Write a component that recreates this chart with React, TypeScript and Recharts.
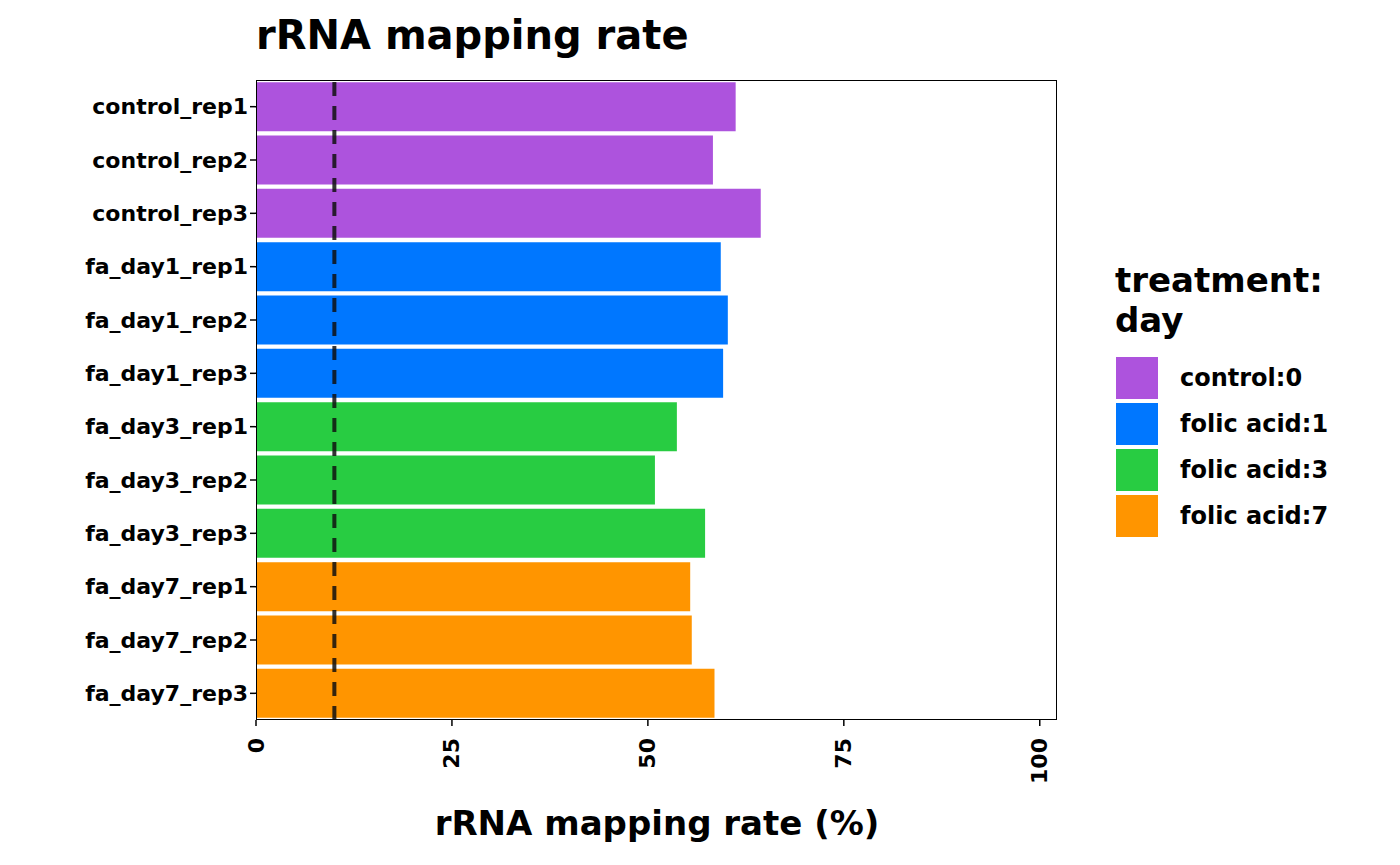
import { BarChart, Bar, XAxis, YAxis, Cell, ReferenceLine } from 'recharts'

const samples = [
  'control_rep1', 'control_rep2', 'control_rep3',
  'fa_day1_rep1', 'fa_day1_rep2', 'fa_day1_rep3',
  'fa_day3_rep1', 'fa_day3_rep2', 'fa_day3_rep3',
  'fa_day7_rep1', 'fa_day7_rep2', 'fa_day7_rep3',
]
const rates = [61.2, 58.3, 64.4, 59.3, 60.2, 59.6, 53.7, 50.9, 57.3, 55.4, 55.6, 58.5]
const groups = [0, 0, 0, 1, 1, 1, 2, 2, 2, 3, 3, 3]
const groupLabels = ['control:0', 'folic acid:1', 'folic acid:3', 'folic acid:7']
const groupColors = ['#AD53DD', '#0077FF', '#28CC42', '#FF9500']
const xTicks = [0, 25, 50, 75, 100]
const threshold = 10

const data = samples.map((s, i) => ({ sample: s, rate: rates[i], group: groups[i] }))
const font = '"DejaVu Sans", sans-serif'

function XTick({ x, y, payload }: any) {
  return (
    <text x={x} y={y + 10} transform={`rotate(-90 ${x} ${y + 10})`} textAnchor="end"
      dominantBaseline="central" fontSize={22} fontWeight="bold" fill="#000" fontFamily={font}>
      {payload.value}
    </text>
  )
}

export default function App() {
  return (
    <div style={{ position: 'absolute', left: 0, top: 0, width: 1400, height: 865, background: '#fff', fontFamily: font }}>
      <div style={{ position: 'absolute', left: 256, top: 12, fontSize: 40, fontWeight: 'bold' }}>rRNA mapping rate</div>
      <BarChart width={1400} height={865} data={data} layout="vertical"
        margin={{ top: 80, right: 343, bottom: 55, left: 10 }} barCategoryGap="4%">
        <XAxis type="number" domain={[0, 102.2]} ticks={xTicks} axisLine={false}
          tickLine={{ stroke: '#000', strokeWidth: 1.5 }} tickSize={6} height={90} tick={<XTick />} />
        <YAxis type="category" dataKey="sample" width={246} axisLine={false}
          tickLine={{ stroke: '#000', strokeWidth: 1.5 }} tickSize={6}
          tick={{ fontSize: 22, fontWeight: 'bold', fill: '#000', fontFamily: font }} />
        <Bar dataKey="rate" isAnimationActive={false}>
          {data.map((d, i) => <Cell key={i} fill={groupColors[d.group]} />)}
        </Bar>
        <ReferenceLine x={threshold} stroke="#111" strokeOpacity={0.85} strokeWidth={4} strokeDasharray="14 10" />
      </BarChart>
      <div style={{ position: 'absolute', left: 256, top: 80, width: 801, height: 640, border: '1.5px solid #000', boxSizing: 'border-box', pointerEvents: 'none' }} />
      <div style={{ position: 'absolute', left: 412, top: 803, width: 490, textAlign: 'center', fontSize: 34, fontWeight: 'bold' }}>rRNA mapping rate (%)</div>
      <div style={{ position: 'absolute', left: 1115, top: 260, fontSize: 34, fontWeight: 'bold', lineHeight: '40px' }}>treatment:<br />day</div>
      {groupLabels.map((g, i) => (
        <div key={g} style={{ position: 'absolute', left: 1116, top: 357 + i * 46, display: 'flex', alignItems: 'center' }}>
          <div style={{ width: 42, height: 42, background: groupColors[i] }} />
          <span style={{ marginLeft: 22, fontSize: 24, fontWeight: 'bold' }}>{g}</span>
        </div>
      ))}
    </div>
  )
}
